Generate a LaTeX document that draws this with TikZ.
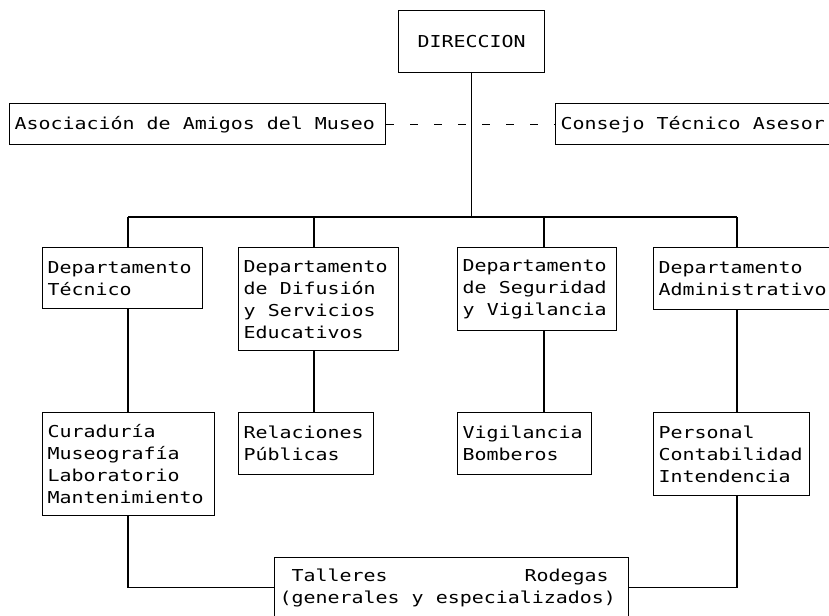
\documentclass[tikz,border=0pt]{standalone}
\usepackage{fontspec}
\newfontfamily\dotfont[FakeStretch=1.215]{DejaVu Sans Mono}
\usepackage{tikz}
\usetikzlibrary{shapes.geometric, arrows, positioning}
\hyphenpenalty=10000
\protected\def\dotsize{\dotfont\fontsize{14}{18.8}\selectfont\spaceskip=10.3pt\relax\xspaceskip=10.3pt\relax}
\tikzstyle{box} = [rectangle, draw=black, line width=1.2pt, inner xsep=0.15cm, inner ysep=0pt, align=flush left, anchor=north west, font=\dotsize]
\tikzstyle{line} = [line width=1.2pt]
\tikzstyle{link} = [line width=1.2pt, dash pattern=on 0.24cm off 0.48cm]

\begin{document}
\begin{tikzpicture}[x=0.03cm, y=-0.03cm]
                                \useasboundingbox (0,0) rectangle (829,616);
                                \node (dir) [box, align=center, text width=4.08cm, minimum height=1.86cm] at (398,10) {DIRECCION};
                                \node (aso) [box, text width=10.98cm, minimum height=1.23cm] at (9,103) {Asociación de Amigos del Museo};
                                \node (con) [box, text width=8.55cm, minimum height=1.23cm] at (555,103) {Consejo Técnico Asesor};
                                \node (tec) [box, text width=4.5cm, minimum height=1.83cm] at (42,247) {Departamento\\Técnico};
                                \node (dif) [box, text width=4.5cm, minimum height=3.09cm] at (238,247) {Departamento\\de Difusión\\y Servicios\\Educativos};
                                \node (seg) [box, text width=4.47cm, minimum height=2.49cm] at (457,247) {Departamento\\de Seguridad\\y Vigilancia};
                                \node (adm) [box, text width=5.61cm, minimum height=1.86cm] at (653,247) {Departamento\\Administrativo};
                                \node (cur) [box, text width=4.86cm, minimum height=3.09cm] at (42,412) {Curaduría\\Museografía\\Laboratorio\\Mantenimiento};
                                \node (rel) [box, text width=3.75cm, minimum height=1.86cm] at (238,412) {Relaciones\\Públicas};
                                \node (vig) [box, text width=3.72cm, minimum height=1.86cm] at (457,412) {Vigilancia\\Bomberos};
                                \node (per) [box, text width=4.38cm, minimum height=2.49cm] at (653,412) {Personal\\Contabilidad\\Intendencia};
                                \node (tal) [box, text width=10.32cm, minimum height=1.8cm] at (274,557) {\kern0.36cm Talleres\hskip0pt plus1filll Rodegas\kern0.45cm\\(generales y especializados)};
                                \coordinate (b1) at (128,217);
                                \coordinate (b2) at (314,217);
                                \coordinate (b3) at (544,217);
                                \coordinate (b4) at (737,217);
                                \draw [link] (aso.east) -- (con.west);
                                \draw [line] (dir.south) -- (dir.south |- b1);
                                \draw [line] (b1) -- (b4);
                                \draw [line] (b1) -- (b1 |- tec.north);
                                \draw [line] (b2) -- (b2 |- dif.north);
                                \draw [line] (b3) -- (b3 |- seg.north);
                                \draw [line] (b4) -- (b4 |- adm.north);
                                \draw [line] (tec.south -| b1) -- (b1 |- cur.north);
                                \draw [line] (dif.south -| b2) -- (b2 |- rel.north);
                                \draw [line] (seg.south -| b3) -- (b3 |- vig.north);
                                \draw [line] (adm.south -| b4) -- (b4 |- per.north);
                                \draw [line] (cur.south -| b1) |- (tal.west);
                                \draw [line] (per.south -| b4) |- (tal.east);
                            \end{tikzpicture}
\end{document}
